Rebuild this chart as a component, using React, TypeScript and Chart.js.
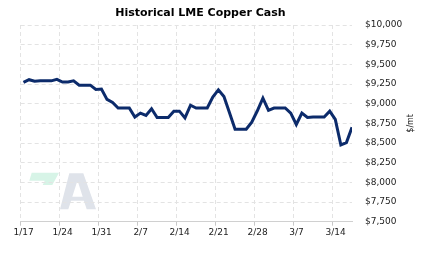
import React, { useEffect, useRef } from 'react';
import { Chart, registerables } from 'chart.js';

Chart.register(...registerables);

const chartTitle = 'Historical LME Copper Cash';
const yAxisTitle = '$/mt';

// week tick positions (days since 1/17) and their labels
const weekTickDays = [0, 7, 14, 21, 28, 35, 42, 49, 56];
const weekTickLabels = ['1/17', '1/24', '1/31', '2/7', '2/14', '2/21', '2/28', '3/7', '3/14'];

// daily cash price, 1/17 .. 3/17 (calendar days, weekends carry Friday's value)
const cashPrices = [
  9270, 9305, 9285, 9290, 9290, 9290, 9310, 9275, 9275, 9290,
  9235, 9235, 9235, 9180, 9185, 9055, 9015, 8945, 8945, 8945,
  8830, 8880, 8850, 8935, 8825, 8825, 8825, 8905, 8905, 8820,
  8980, 8945, 8945, 8945, 9085, 9175, 9090, 8885, 8675, 8675,
  8675, 8765, 8910, 9070, 8915, 8945, 8945, 8945, 8880, 8735,
  8880, 8825, 8830, 8830, 8830, 8905, 8800, 8475, 8505, 8700,
];

const yMin = 7500;
const yMax = 10000;
const yStep = 250;
const xMax = 59.5;

const tickFont = { family: '"DejaVu Sans", Verdana, sans-serif', size: 9 };

const decorPlugin = {
  id: 'decor',
  beforeDraw(chart: any) {
    const { ctx, chartArea } = chart;
    const L = chartArea.left;
    const B = chartArea.bottom;
    const P = (x: number, y: number) => [L + x, B + y];
    ctx.save();
    // mint mark
    ctx.fillStyle = '#d7f4e7';
    ctx.beginPath();
    const mint = [P(11, -49), P(38.3, -49), P(31.6, -36.7), P(22, -36.7), P(24, -41), P(8.6, -41)];
    mint.forEach(([x, y], i) => (i ? ctx.lineTo(x, y) : ctx.moveTo(x, y)));
    ctx.closePath();
    ctx.fill();
    // grey A
    ctx.fillStyle = '#dfe3ea';
    ctx.beginPath();
    const outer = [P(39.3, -12.4), P(48.6, -48.4), P(62.6, -48.4), P(75.3, -12.4), P(66, -12.4), P(63.2, -21), P(50.4, -21), P(47.6, -12.4)];
    outer.forEach(([x, y], i) => (i ? ctx.lineTo(x, y) : ctx.moveTo(x, y)));
    ctx.closePath();
    const inner = [P(51.6, -25), P(62, -25), P(57.3, -39.7), P(56.3, -39.7)];
    inner.forEach(([x, y], i) => (i ? ctx.lineTo(x, y) : ctx.moveTo(x, y)));
    ctx.closePath();
    ctx.fill('evenodd');
    ctx.restore();
  },
  afterDraw(chart: any) {
    const { ctx, chartArea } = chart;
    ctx.save();
    ctx.fillStyle = '#000';
    ctx.textAlign = 'center';
    ctx.textBaseline = 'middle';
    ctx.font = 'bold 11px "DejaVu Sans", Verdana, sans-serif';
    ctx.fillText(chartTitle, (chartArea.left + chartArea.right) / 2 + 14, 13);
    const ys = chart.scales.y;
    ctx.translate(ys.right + 9, (chartArea.top + chartArea.bottom) / 2);
    ctx.rotate(-Math.PI / 2);
    ctx.font = '8px "DejaVu Sans", Verdana, sans-serif';
    ctx.fillStyle = '#222';
    ctx.fillText(yAxisTitle, 0, 0);
    ctx.restore();
  },
};

export default function App() {
  const canvasRef = useRef<HTMLCanvasElement | null>(null);

  useEffect(() => {
    if (!canvasRef.current) return;
    const chart = new Chart(canvasRef.current, {
      type: 'line',
      data: {
        datasets: [
          {
            label: 'LME Copper Cash',
            data: cashPrices.map((v, i) => ({ x: i + 0.5, y: v })),
            borderColor: '#0c2b6b',
            borderWidth: 3,
            pointRadius: 0,
            tension: 0,
            fill: false,
          },
        ],
      },
      options: {
        animation: false,
        responsive: false,
        devicePixelRatio: 1,
        layout: { padding: { left: 20.7, right: 21, top: 25, bottom: 0 } },
        plugins: {
          legend: { display: false },
          title: { display: false },
          tooltip: { enabled: false },
        },
        scales: {
          x: {
            type: 'linear',
            min: 0,
            max: xMax,
            afterBuildTicks: (scale: any) => {
              scale.ticks = weekTickDays.map((v) => ({ value: v }));
            },
            afterFit: (scale: any) => {
              scale.height = 35.3;
            },
            ticks: {
              autoSkip: false,
              maxRotation: 0,
              padding: 2,
              labelOffset: 3,
              color: '#222',
              font: tickFont,
              callback: (value: any) => {
                const idx = weekTickDays.indexOf(Number(value));
                return idx >= 0 ? weekTickLabels[idx] : '';
              },
            },
            grid: {
              color: '#e3e3e3',
              lineWidth: 1,
              drawTicks: true,
              tickLength: 4,
              tickColor: '#c8c8c8',
            },
            border: { display: true, color: '#d0d0d0', width: 1, dash: [4, 3] },
          },
          y: {
            type: 'linear',
            position: 'right',
            min: yMin,
            max: yMax,
            afterFit: (scale: any) => {
              scale.width = 50;
            },
            ticks: {
              stepSize: yStep,
              padding: 13,
              color: '#222',
              font: tickFont,
              callback: (value: any) => '$' + Number(value).toLocaleString('en-US'),
            },
            grid: { color: '#e3e3e3', lineWidth: 1, drawTicks: false },
            border: { display: false, dash: [4, 3] },
          },
        },
      },
      plugins: [decorPlugin],
    });
    return () => chart.destroy();
  }, []);

  return (
    <div style={{ position: 'fixed', left: 0, top: 0, width: 423, height: 257, background: '#fff' }}>
      <canvas ref={canvasRef} width={423} height={257} style={{ width: 423, height: 257, display: 'block' }} />
    </div>
  );
}
